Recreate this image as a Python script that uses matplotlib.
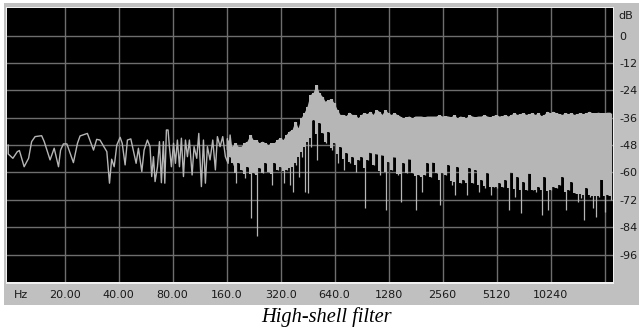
import matplotlib
matplotlib.use("Agg")
import matplotlib.pyplot as plt
import numpy as np
from matplotlib.patches import Rectangle
from matplotlib.ticker import NullLocator

W, H = 639, 331

grid_freqs = [20, 40, 80, 160, 320, 640, 1280, 2560, 5120, 10240, 20480]
x_labels = ["20.00", "40.00", "80.00", "160.0", "320.0", "640.0", "1280", "2560", "5120", "10240", ""]
grid_db = [0, -12, -24, -36, -48, -60, -72, -84, -96]
y_labels = ["0", "-12", "-24", "-36", "-48", "-60", "-72", "-84", "-96"]
caption = "High-shell filter"

trace_freq = [9.7, 9.7, 10.3, 10.9, 11.2, 11.9, 12.6, 13.1, 13.7, 14.9, 15.4, 16.6, 17.5, 18.5, 19.0, 19.7,
              20.6, 22.4, 23.6, 24.4, 26.8, 29, 30.2, 31.5, 34.4, 35.6, 36.6, 37.8, 39.1, 40.8, 41.9, 43.5,
              44.8, 46.8, 50.1, 51.6, 53.9, 55.5, 57.9, 59.9,
              61.2, 62.6, 63.9, 65.9, 67.6, 69.3, 71.1, 72.4, 73.9, 75.5, 76.8, 78.8, 81, 83, 85.1, 87.4,
              89.6, 92, 94.4, 96.8, 99.3, 102.8, 105.4, 109.1, 112, 115.8, 118.9, 121.9, 125.1, 129.4,
              134, 138.6, 142.2, 147.2, 152.3, 157.6, 163.2, 167.4, 171.7, 176.2]
trace_db = [-48, -51.9, -53.8, -50.9, -50.4, -57.5, -53.8, -46.5, -44.3, -43.9, -46.5, -54.5, -49.4, -57.5, -50.2, -47.5,
            -47.5, -55.7, -47.2, -44, -42.9, -50.2, -45.5, -45.8, -50.9, -64.7, -54.2, -57.5, -48, -44.6, -47.2, -56.7,
            -45.8, -45.3, -56, -49.4, -59.6, -50.2, -45.8, -48.7,
            -61.8, -53.1, -64, -57.5, -46.5, -64.5, -46.5, -64.7, -41.4, -41.4, -48.7, -57.5, -47.2, -56, -45.8, -57.5,
            -45, -61.8, -45.8, -53.1, -45.8, -61.1, -48.7, -53.8, -42.9, -66.2, -45.8, -64.7, -48.7, -54.5,
            -45.8, -58.9, -44.3, -48.7, -44.3, -53.1, -56, -43.6, -51.6, -56.7]

band_freq = [160, 166.3, 172.8, 179.6, 186.7, 194, 201.6, 209.5, 217.8, 226.3, 235.2, 244.4, 254, 264, 274.3, 285.1, 296.3, 307.9,
             320, 332.6, 345.6, 359.2, 373.3, 388, 403.2, 419, 435.5, 452.5, 470.3, 488.8, 508, 527.9, 548.6, 570.2, 592.6, 615.8,
             640, 665.2, 691.3, 718.4, 746.6, 775.9, 806.4, 838.1, 870.9, 905.1, 940.7, 977.6, 1016, 1056, 1097, 1140, 1185, 1232,
             1280, 1330, 1383, 1437, 1493, 1552, 1613, 1676, 1742, 1810, 1881, 1955, 2032, 2112, 2195, 2281, 2370, 2463,
             2560, 2661, 2765, 2874, 2986, 3104, 3226, 3352, 3484, 3621, 3763, 3911, 4064, 4224, 4390, 4562, 4741, 4927,
             5120, 5321, 5530, 5747, 5972, 6207, 6451, 6705, 6967, 7241, 7526, 7821, 8127, 8447, 8779, 9124, 9481, 9853,
             10240, 10642, 11060, 11494, 11945, 12415, 12902, 13409, 13935, 14482, 15051, 15642, 16255, 16893, 17557, 18247, 18963, 19707,
             20480, 21285, 22121]
band_top = [-45.0, -46.5, -48.7, -47.2, -48.7, -48.7, -47.2, -46.5, -43.6, -45.8, -45.8, -47.2, -46.5, -47.2, -48, -47.2, -47.2, -45.8,
            -45, -45.8, -43.6, -42.1, -41.4, -37.7, -40.7, -36.3, -34.1, -31.2, -26.1, -25.3, -21.7, -25.3, -26.8, -29, -28.3, -28,
            -29.7, -32.6, -34.8, -34.8, -35.3, -33.8, -34.8, -34.8, -36.3, -34.8, -34.1, -34.4, -33.4, -34.8, -32.6, -33.4, -34.8, -32.6,
            -34.1, -34.8, -34.1, -34.8, -35.5, -36.3, -35.8, -35.5, -36.3, -35.5, -35.5, -35.5, -35.8, -35.5, -35.5, -35.5, -35.5, -34.8,
            -35.5, -35.3, -35.5, -35.8, -34.8, -36.3, -35.5, -35.8, -36.3, -34.8, -35.5, -35.8, -35.5, -35.5, -34.8, -35.5, -35.8, -35.3,
            -34.8, -35.5, -35.3, -34.8, -35.5, -34.8, -34.1, -34.8, -34.4, -34.1, -34.8, -34.4, -34.1, -34.8, -34.1, -35.3, -34.8, -33.4,
            -34.1, -33.4, -34.1, -34.4, -34.8, -34.1, -34.4, -34.1, -34.8, -34.4, -34.1, -34.4, -34.1, -33.4, -34.1, -34.1, -33.8, -34.1,
            -34.1, -33.8, -33.8]
band_low = [-54.5, -53.1, -56, -64.7, -56, -58.9, -62.6, -57.5, -80.1, -60.4, -87.8, -58.2, -60.4, -56, -59.6, -65.5, -56, -58.9,
            -57.5, -64.7, -58.9, -65.5, -68.4, -56.7, -61.8, -53.1, -68.4, -69.1, -48.7, -37, -54.5, -38.5, -42.9, -47.2, -42.1, -50.2,
            -47.2, -56, -48.7, -58.9, -51.6, -56, -53.1, -59.6, -54.5, -53.1, -75.7, -54.5, -48.7, -56.7, -49.4, -61.1, -49.4, -76.4,
            -55.3, -58.9, -50.9, -61.1, -72.8, -56, -60.4, -53.1, -60.4, -76.4, -61.1, -68.4, -61.1, -56, -61.8, -54.5, -60.4, -74.2,
            -60.4, -61.1, -56.7, -65.5, -69.9, -57.5, -64.7, -63.3, -69.9, -58.2, -64.7, -58.9, -68.4, -63.3, -66.9, -60.4, -69.9, -66.2,
            -66.9, -64.7, -66.2, -63.3, -76.4, -59.6, -70.6, -61.8, -77.9, -64, -67.7, -57.5, -67.7, -68.4, -66.2, -78.6, -61.8, -76.4,
            -67.7, -66.2, -66.9, -65.5, -61.8, -76.4, -67.7, -64, -69.1, -72.8, -71.3, -80.8, -66.9, -70.6, -75.7, -79.4, -70.6, -62.6,
            -77.2, -69.9, -72.1]

# Solid lower edge of the band, above which no black shows through.
body_freq = [160, 175, 226, 305, 377, 411, 467, 509, 579, 687, 815, 1010, 1250, 1918, 2940, 4510, 6920, 10620, 16280, 22121]
body_db = [-50, -53, -54, -53.5, -50.5, -45, -38, -36, -40, -46, -49.5, -51.5, -53, -55, -57, -59, -60.5, -61, -63, -63.5]

PANEL = "#c0c0c0"
TRACE = "#b6b6b6"
GRID = "#6e6e6e"
TEXT = "#1a1a1a"

plt.rcParams["font.family"] = ["DejaVu Sans"]
fig = plt.figure(figsize=(W / 100, H / 100), dpi=100, facecolor="white")


def box(x0, y0, x1, y1, color):
    fig.add_artist(Rectangle((x0 / W, 1 - y1 / H), (x1 - x0) / W, (y1 - y0) / H,
                             transform=fig.transFigure, facecolor=color, edgecolor="none", zorder=0))


box(4, 3, 639, 304.5, PANEL)
box(6, 7, 614, 284, "#f0f0f0")

ax = fig.add_axes([7 / W, 1 - 282 / H, (612.5 - 7) / W, (282 - 8) / H], facecolor="black")
ax.set_zorder(3)
ax.set_xscale("log", base=2)
ax.set_xlim(9.55, 22680)
ax.set_ylim(-108, 12.05)
ax.set_xticks(grid_freqs, labels=x_labels)
ax.xaxis.set_minor_locator(NullLocator())
ax.set_yticks(grid_db, labels=y_labels)
ax.yaxis.tick_right()
ax.tick_params(axis="both", length=0, labelsize=8, labelcolor=TEXT)
ax.tick_params(axis="x", pad=6)
ax.tick_params(axis="y", pad=5)
for label in ax.get_yticklabels():
    label.set_ha("left")
ax.grid(True, color=GRID, linewidth=1.0)
ax.set_axisbelow(True)
for s in ax.spines.values():
    s.set_visible(False)

# Columns three pixels wide stop a few dB under the solid edge; deeper dips stay thin lines.
edge = np.interp(np.log2(band_freq), np.log2(body_freq), body_db)
shelf = np.maximum(band_low, edge - 7)

ax.plot(trace_freq, trace_db, color=TRACE, linewidth=1.0, zorder=3)
ax.vlines(band_freq, band_low, band_top, color=TRACE, linewidth=0.9, zorder=3)
ax.fill_between(band_freq, shelf, band_top, step="mid", color=TRACE, linewidth=0, zorder=3)
ax.fill(band_freq + body_freq[::-1], band_top + body_db[::-1], color=TRACE, linewidth=0, zorder=3)

fig.text(21 / W, 1 - 295 / H, "Hz", fontsize=8, color=TEXT, ha="center", va="center", zorder=5)
fig.text(626 / W, 1 - 16 / H, "dB", fontsize=8, color=TEXT, ha="center", va="center", zorder=5)
fig.text(326.5 / W, 1 - 317 / H, caption, fontsize=14.7, style="italic",
         family="Liberation Serif", color="black", ha="center", va="center", zorder=5)

fig.savefig("out.png", dpi=100, facecolor="white")
